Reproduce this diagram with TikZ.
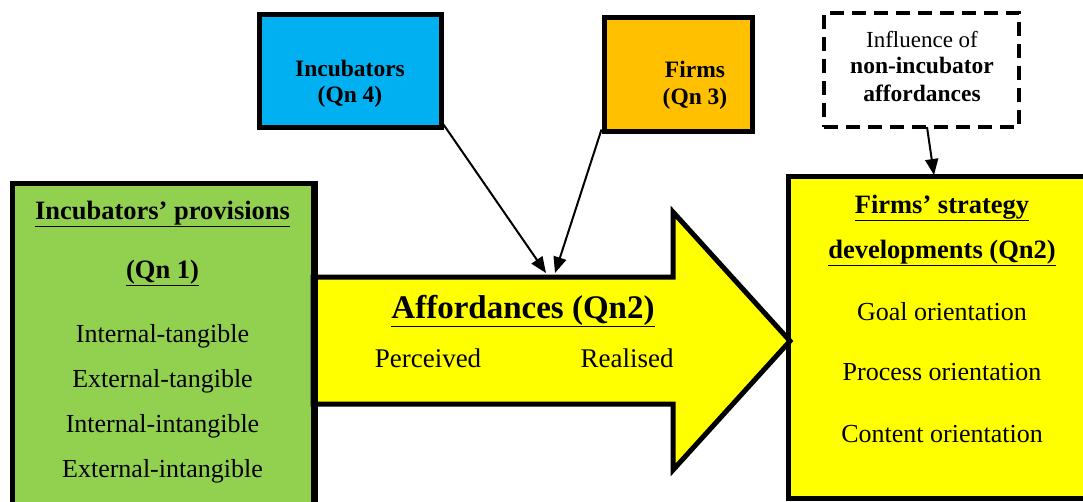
\documentclass[tikz,border=0pt]{standalone}
\usepackage{fontspec}
\setmainfont{Liberation Serif}
\usetikzlibrary{arrows.meta}
\definecolor{cgreen}{HTML}{92D050}
\definecolor{cblue}{HTML}{00B0F0}
\definecolor{corange}{HTML}{FFC000}
\definecolor{cyellow}{HTML}{FFFF00}
\tikzset{
  box/.style={draw=black, line width=5pt, rectangle, inner sep=0pt},
  txt/.style={anchor=base, inner sep=0pt, font=\fontsize{26}{30}\selectfont},
  btxt/.style={anchor=base, inner sep=0pt, font=\fontsize{26.5}{30}\selectfont\bfseries},
  stxt/.style={anchor=base, inner sep=0pt, font=\fontsize{23.5}{27}\selectfont\bfseries},
  conn/.style={draw=black, line width=2pt, -{Triangle[length=16pt,width=13pt]}},
}
\begin{document}
\begin{tikzpicture}[x=1pt,y=-1pt]
\useasboundingbox (0,0) rectangle (1083,501);
\clip (0,0) rectangle (1083,501);
% boxes
\node[box, fill=cgreen, minimum width=301pt, minimum height=340pt] (green) at (162.5,353) {};
\node[box, fill=cyellow, minimum width=310pt, minimum height=322pt] (right) at (943,337) {};
\node[box, fill=cblue, minimum width=182pt, minimum height=113pt] (inc) at (350,70.5) {};
\node[box, fill=corange, minimum width=148pt, minimum height=114pt] (firms) at (678,74) {};
\node[draw=black, line width=3.5pt, dash pattern=on 14pt off 8pt, fill=white, rectangle, minimum width=195pt, minimum height=114pt] (infl) at (921.5,70) {};
% big arrow
\draw[line width=5pt, fill=cyellow, line join=miter]
  (313,277) -- (673,277) -- (673,212) -- (790,341) -- (673,470) -- (673,404) -- (313,404) -- cycle;
\draw[line width=5pt] (green.north east) -- (green.south east);
% texts green
\node[btxt] (g1) at (162.5,219) {\underline{Incubators’ provisions}};
\node[btxt] (g2) at (162.5,278) {\underline{(Qn 1)}};
\node[txt] (g3) at (162.5,342) {Internal-tangible};
\node[txt] (g4) at (162.5,387) {External-tangible};
\node[txt] (g5) at (162.5,432) {Internal-intangible};
\node[txt] (g6) at (162.5,477) {External-intangible};
% blue
\node[stxt] (b1) at (350,76) {Incubators};
\node[stxt] (b2) at (350,102) {(Qn 4)};
% firms
\node[stxt] (f1) at (695,77) {Firms};
\node[stxt] (f2) at (695,104) {(Qn 3)};
% influence
\node[anchor=base, inner sep=0pt, font=\fontsize{23}{27}\selectfont] (i1) at (922,47) {Influence of};
\node[stxt] (i2) at (922,73) {non-incubator};
\node[stxt] (i3) at (922,101) {affordances};
% arrow texts
\node[anchor=base, inner sep=0pt, font=\fontsize{33}{38}\selectfont\bfseries] (a1) at (523,318) {\underline{Affordances (Qn2)}};
\node[txt, font=\fontsize{27}{31}\selectfont] (a2) at (428,367) {Perceived};
\node[txt, font=\fontsize{27}{31}\selectfont] (a3) at (627,367) {Realised};
% right box
\node[btxt] (r1) at (942,213) {\underline{Firms’ strategy}};
\node[btxt] (r2) at (942,258) {\underline{developments (Qn2)}};
\node[txt] (r3) at (942,320) {Goal orientation};
\node[txt] (r4) at (942,380) {Process orientation};
\node[txt] (r5) at (942,442) {Content orientation};
% connectors
\coordinate (e1) at (546,273);
\coordinate (e2) at (555,273);
\coordinate (e3) at (934,175);
\coordinate (s3) at (927,127);
\draw[conn] (inc.south east) ++(0,-5) -- (e1);
\draw[conn] (firms.south west) ++(0,-4) -- (e2);
\draw[conn] (s3) -- (e3);
\end{tikzpicture}
\end{document}
